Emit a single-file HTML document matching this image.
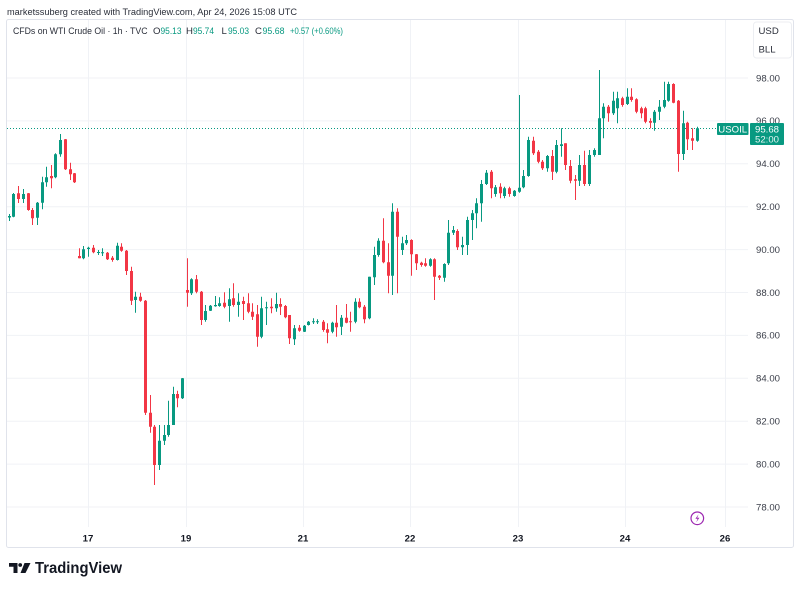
<!DOCTYPE html>
<html><head><meta charset="utf-8"><style>
html,body{margin:0;padding:0;background:#fff;}
svg{display:block;font-family:"Liberation Sans",sans-serif;}
</style></head><body>
<svg width="800" height="591" viewBox="0 0 800 591" xmlns="http://www.w3.org/2000/svg">
<rect width="800" height="591" fill="#fff"/>
<text x="7" y="15" font-size="9.6" fill="#2a2e39" textLength="290" lengthAdjust="spacingAndGlyphs">marketssuberg created with TradingView.com, Apr 24, 2026 15:08 UTC</text>
<rect x="6.5" y="19.5" width="787" height="528" rx="2" fill="none" stroke="#e0e3eb" stroke-width="1"/>
<g stroke="#f0f2f6" stroke-width="1">
<line x1="7" y1="78" x2="748" y2="78"/><line x1="7" y1="120.9" x2="748" y2="120.9"/><line x1="7" y1="163.8" x2="748" y2="163.8"/><line x1="7" y1="206.7" x2="748" y2="206.7"/><line x1="7" y1="249.6" x2="748" y2="249.6"/><line x1="7" y1="292.5" x2="748" y2="292.5"/><line x1="7" y1="335.4" x2="748" y2="335.4"/><line x1="7" y1="378.3" x2="748" y2="378.3"/><line x1="7" y1="421.2" x2="748" y2="421.2"/><line x1="7" y1="464.1" x2="748" y2="464.1"/><line x1="7" y1="507" x2="748" y2="507"/>
<line x1="88.5" y1="20" x2="88.5" y2="527"/><line x1="186.5" y1="20" x2="186.5" y2="527"/><line x1="303.5" y1="20" x2="303.5" y2="527"/><line x1="410.5" y1="20" x2="410.5" y2="527"/><line x1="518.5" y1="20" x2="518.5" y2="527"/><line x1="625.5" y1="20" x2="625.5" y2="527"/><line x1="725.5" y1="20" x2="725.5" y2="527"/>
</g>
<g font-size="9.6">
<text x="13" y="34" fill="#2a2e39" textLength="134.5" lengthAdjust="spacingAndGlyphs">CFDs on WTI Crude Oil · 1h · TVC</text>
<text x="153" y="34" fill="#2a2e39">O</text><text x="160.5" y="34" fill="#089981" textLength="21" lengthAdjust="spacingAndGlyphs">95.13</text>
<text x="186" y="34" fill="#2a2e39">H</text><text x="193" y="34" fill="#089981" textLength="21" lengthAdjust="spacingAndGlyphs">95.74</text>
<text x="221.5" y="34" fill="#2a2e39">L</text><text x="228" y="34" fill="#089981" textLength="21" lengthAdjust="spacingAndGlyphs">95.03</text>
<text x="255" y="34" fill="#2a2e39">C</text><text x="262.5" y="34" fill="#089981" textLength="22" lengthAdjust="spacingAndGlyphs">95.68</text>
<text x="290" y="34" fill="#089981" textLength="53" lengthAdjust="spacingAndGlyphs">+0.57 (+0.60%)</text>
</g>
<line x1="7" y1="128.5" x2="717" y2="128.5" stroke="#089981" stroke-width="1" stroke-dasharray="1,2"/>
<path fill="none" stroke="#089981" stroke-width="1" d="M9.5,214V221M13.5,193V217.3M23.5,189V203M37.5,202V225M42.5,176.7V209.3M46.5,166.7V186.7M55.5,153.3V178.3M60.5,134V156.7M83.5,246V259.3M88.5,246.7V256.7M98.5,250V255M102.5,248.3V256M117.5,242.7V260.5M135.5,291.7V312.7M159.5,425V470M164.5,425V445M168.5,400.7V436.7M173.5,386.7V425M182.5,378V399M191.5,278.3V295M205.5,305V321.7M210.5,305V311M215.5,296V306.7M219.5,297.3V306.7M229.5,288.3V321.7M238.5,293.3V316.7M261.5,296.7V338.3M266.5,301.7V325M276.5,292.7V311.7M294.5,325V345M304.5,325V332M308.5,321V325.5M313.5,318.3V324M317.5,319.3V324M332.5,321.7V333.3M341.5,315V335M355.5,298.3V323.3M369.5,276.7V319.3M374.5,246.7V285M378.5,238.3V256.7M392.5,203.3V295M402.5,236.7V255M406.5,235V245M430.5,258.3V266.7M444.5,263.3V281.7M448.5,220V265M453.5,226V235M462.5,236.7V255M467.5,216.7V255M472.5,210V240M476.5,198.3V228.3M481.5,180V221.7M486.5,170V185M495.5,185V196.7M504.5,186.7V198.3M514.5,190V196.7M519.5,95V192.7M523.5,170V188.3M528.5,136.7V176.7M547.5,155V171.7M556.5,140V173.3M561.5,128.3V156.7M579.5,155V186M589.5,150V186M594.5,148.3V156.7M599.5,70V155M603.5,103.3V138.3M613.5,91.7V115M617.5,91.7V123.3M627.5,88.3V105M654.5,110V130.7M659.5,100V120M664.5,81.7V108.3M668.5,81.7V101.7M683.5,110.7V160M697.5,126.7V141.7"/>
<path fill="#089981" d="M8,216h3v1.5h-3zM12,194h3v22.7h-3zM22,194h3v5h-3zM36,202.7h3v15h-3zM41,182.3h3v20.4h-3zM45,177.3h3v5h-3zM54,154.3h3v23h-3zM59,140h3v14.3h-3zM82,249.3h3v9h-3zM87,247.7h3v1.3h-3zM97,252h3v1h-3zM101,252.3h3v1h-3zM116,245.7h3v14.3h-3zM134,296.7h3v3.3h-3zM158,440.7h3v24.3h-3zM163,435h3v5.7h-3zM167,425h3v10h-3zM172,394h3v31h-3zM181,378.3h3v20h-3zM190,279.3h3v14h-3zM204,311h3v9h-3zM209,305.7h3v5h-3zM214,305h3v1.3h-3zM218,303.3h3v2.7h-3zM228,299.3h3v6.7h-3zM237,301.7h3v3.3h-3zM260,308.3h3v28.4h-3zM265,307.3h3v1h-3zM275,304h3v4.3h-3zM293,328.3h3v11h-3zM303,325.7h3v6h-3zM307,321.7h3v3.3h-3zM312,321.2h3v1h-3zM316,321.2h3v1h-3zM331,322.7h3v9h-3zM340,317.7h3v9h-3zM354,301.7h3v20h-3zM368,276.7h3v41.6h-3zM373,255h3v22.3h-3zM377,240.7h3v14.3h-3zM391,211.7h3v64h-3zM401,243.3h3v6.7h-3zM405,240h3v3.3h-3zM429,259.3h3v6.4h-3zM443,264h3v13.7h-3zM447,232.7h3v30.6h-3zM452,230h3v2.7h-3zM461,245h3v2.3h-3zM466,220h3v25h-3zM471,213.3h3v6.7h-3zM475,203.3h3v10h-3zM480,184h3v19.3h-3zM485,172.7h3v11.3h-3zM494,187.3h3v6.7h-3zM503,188.3h3v7.7h-3zM513,190.7h3v5.3h-3zM518,187.7h3v4h-3zM522,176h3v11.3h-3zM527,140h3v36h-3zM546,156h3v12.3h-3zM555,145h3v26.7h-3zM560,144.3h3v1.7h-3zM578,165h3v15.7h-3zM588,155h3v29h-3zM593,150h3v5h-3zM598,118.3h3v36.7h-3zM602,106.7h3v11.6h-3zM612,100.7h3v12.6h-3zM616,98.3h3v10h-3zM626,96.7h3v7.3h-3zM653,111.7h3v11h-3zM658,106.7h3v5h-3zM663,100h3v6.7h-3zM667,84h3v16.7h-3zM682,123.3h3v30.7h-3zM696,128.3h3v12.4h-3z"/>
<path fill="none" stroke="#f23645" stroke-width="1" d="M18.5,186V203M28.5,193V210.7M32.5,208V225M51.5,165V188.3M65.5,139V170M70.5,162.7V180M74.5,173V183M79.5,248.3V258.3M93.5,245V253.3M107.5,252V260M112.5,256V261.7M121.5,243.3V251.7M126.5,250V275M131.5,266.7V305M140.5,292.7V301.7M145.5,300V415M150.5,395V432.7M154.5,425V485M177.5,390.7V407.3M187.5,258.3V306.7M196.5,275V293.3M201.5,291V325M224.5,292.3V308.3M233.5,283.3V306.7M243.5,296.7V320M248.5,293.3V313.3M252.5,303.3V320M257.5,305V346.7M271.5,298.3V313.3M280.5,298.3V315M285.5,305V318.3M289.5,315V344M299.5,325V331.7M323.5,320V331.7M327.5,323.3V343.3M336.5,305V336.7M346.5,304V323.3M350.5,311.7V331.7M359.5,298.3V308.3M364.5,305V323.3M383.5,218.3V263.3M388.5,243.3V293.3M397.5,208.3V293.3M411.5,239.3V275.7M416.5,254V270M421.5,261.7V266.7M425.5,258.3V266.7M434.5,258.3V300M439.5,275V280M457.5,229.3V250M491.5,170V198.3M500.5,183.3V198.3M509.5,186.7V196.7M533.5,136.7V155M538.5,150V163.3M542.5,160V170M552.5,150V180M565.5,143.3V170M570.5,160V183.3M575.5,175V200M584.5,150.7V186M608.5,105V121.7M622.5,96.7V106.7M631.5,88.3V101.7M636.5,98.3V113.3M641.5,106.7V118.3M645.5,106.7V123.3M650.5,118.3V128.3M673.5,83.3V103.3M678.5,100V171.7M687.5,121.7V150M692.5,128.3V150"/>
<path fill="#f23645" d="M17,193.3h3v5.7h-3zM27,193.3h3v16.7h-3zM31,210h3v8.3h-3zM50,176h3v2.3h-3zM64,139.3h3v30h-3zM69,169.3h3v5h-3zM73,173.3h3v9h-3zM78,256h3v2.3h-3zM92,247.7h3v4.6h-3zM106,252.7h3v6.6h-3zM111,257.7h3v2.3h-3zM120,246.7h3v4h-3zM125,250.7h3v20.3h-3zM130,271h3v29.7h-3zM139,296.7h3v4h-3zM144,300.7h3v112h-3zM149,412.7h3v14h-3zM153,426.7h3v38.3h-3zM176,394h3v4.3h-3zM186,290h3v2.7h-3zM195,279.3h3v12.4h-3zM200,291.7h3v28.3h-3zM223,302.7h3v4h-3zM232,298.3h3v6.7h-3zM242,301h3v3h-3zM247,303.3h3v8.4h-3zM251,311.7h3v5h-3zM256,314.3h3v22.4h-3zM270,306.7h3v1.6h-3zM279,304h3v2.7h-3zM284,306h3v11.3h-3zM288,315h3v23.3h-3zM298,327.7h3v3h-3zM322,321.7h3v8.3h-3zM326,329.3h3v3.4h-3zM335,322.7h3v4.6h-3zM345,317.7h3v5h-3zM349,321.2h3v1h-3zM358,301.7h3v5.6h-3zM363,306.7h3v12.6h-3zM382,240.7h3v21.6h-3zM387,262.3h3v13.4h-3zM396,211.7h3v25h-3zM410,240h3v14.3h-3zM415,254.3h3v9h-3zM420,262.7h3v2.3h-3zM424,263.3h3v2.4h-3zM433,259.3h3v17.4h-3zM438,275.7h3v2h-3zM456,231h3v16.3h-3zM490,171.7h3v16.6h-3zM499,186.7h3v6.6h-3zM508,188.3h3v5.7h-3zM532,140.7h3v12.6h-3zM537,151.7h3v10h-3zM541,161.7h3v6.6h-3zM551,156h3v15.7h-3zM564,143.3h3v21.7h-3zM569,166h3v14.7h-3zM574,179.3h3v1.4h-3zM583,165h3v19h-3zM607,106.7h3v6.6h-3zM621,98.3h3v6.7h-3zM630,96.7h3v3.3h-3zM635,99.3h3v12.4h-3zM640,108.3h3v5h-3zM644,108.3h3v13.4h-3zM649,121h3v1.7h-3zM672,84h3v18.7h-3zM677,100.7h3v53.3h-3zM686,122.7h3v16.6h-3zM691,138.3h3v2.4h-3z"/>
<g font-size="9.6" fill="#3b3f4a" text-anchor="end">
<text x="780" y="81.3">98.00</text><text x="780" y="124.2">96.00</text><text x="780" y="167.1">94.00</text><text x="780" y="210">92.00</text><text x="780" y="252.9">90.00</text><text x="780" y="295.8">88.00</text><text x="780" y="338.7">86.00</text><text x="780" y="381.6">84.00</text><text x="780" y="424.5">82.00</text><text x="780" y="467.4">80.00</text><text x="780" y="510.3">78.00</text>
</g>
<rect x="753.5" y="22" width="38" height="36" rx="3" fill="#fff" stroke="#eceef2"/>
<text x="758.5" y="34" font-size="9.6" fill="#2a2e39">USD</text>
<text x="758.5" y="52.5" font-size="9.6" fill="#2a2e39">BLL</text>
<rect x="717" y="123" width="31.5" height="12" rx="1" fill="#089981"/>
<text x="732.7" y="132.5" font-size="9.6" fill="#fff" text-anchor="middle">USOIL</text>
<rect x="750" y="123" width="34" height="22" rx="1" fill="#089981"/>
<text x="767" y="132.5" font-size="9.6" fill="#fff" text-anchor="middle">95.68</text>
<text x="767" y="142.5" font-size="9.6" fill="#e6f5f2" text-anchor="middle">52:00</text>
<g font-size="9.6" font-weight="bold" fill="#131722" text-anchor="middle">
<text x="88" y="541.5">17</text><text x="186" y="541.5">19</text><text x="303" y="541.5">21</text><text x="410" y="541.5">22</text><text x="518" y="541.5">23</text><text x="625" y="541.5">24</text><text x="725" y="541.5">26</text>
</g>
<circle cx="697.3" cy="518.3" r="6.3" fill="#fff" stroke="#9c27b0" stroke-width="1.2"/>
<path d="M698.6 514.3 L695.4 518.8 L697.6 518.8 L696.2 522.4 L699.4 517.8 L697.2 517.8 Z" fill="#9c27b0"/>
<g fill="#131722">
<path d="M9 563 H17.5 V573 H13.5 V566.8 H9 Z"/>
<circle cx="20.2" cy="565" r="1.9"/>
<path d="M24.5 563 H30.5 L25.5 573 H20.5 Z"/>
</g>
<text x="35" y="573" font-size="15.5" font-weight="bold" fill="#131722" textLength="87" lengthAdjust="spacingAndGlyphs">TradingView</text>
</svg>
</body></html>
